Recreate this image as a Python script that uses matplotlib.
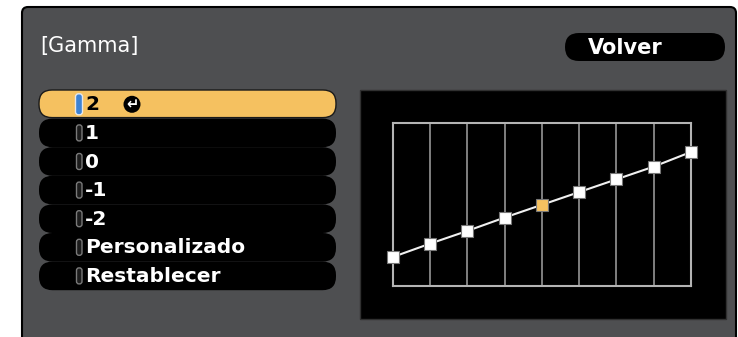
import matplotlib
matplotlib.use("Agg")
import matplotlib.pyplot as plt
from matplotlib.patches import FancyBboxPatch, Rectangle, Circle

# ---- data ----
title = "[Gamma]"
back_label = "Volver"
menu_items = ["2", "1", "0", "-1", "-2", "Personalizado", "Restablecer"]
selected_item = 0
curve_x = [0, 1, 2, 3, 4, 5, 6, 7, 8]
curve_y = [45, 66, 86, 107, 127, 147, 167, 187, 210]
highlight_point = 4
y_max = 255

W, H = 738, 337
fig = plt.figure(figsize=(W / 100, H / 100), dpi=100)
fig.patch.set_facecolor("white")

bg = fig.add_axes([0, 0, 1, 1])
bg.set_xlim(0, W)
bg.set_ylim(H, 0)
bg.axis("off")

PANEL = "#4e4f51"
YELLOW = "#f5c160"

# outer panel
bg.add_patch(FancyBboxPatch((22, 7), 714, 340, boxstyle="round,pad=0,rounding_size=6",
                            facecolor=PANEL, edgecolor="black", linewidth=1.5))

# title
bg.text(40, 46, title, color="white", fontsize=15, va="center", ha="left",
        family="DejaVu Sans")

# Volver pill
bg.add_patch(FancyBboxPatch((565, 33), 160, 28, boxstyle="round,pad=0,rounding_size=14",
                            facecolor="black", edgecolor="none"))
bg.text(588, 47.5, back_label, color="white", fontsize=15, fontweight="bold",
        va="center", ha="left", family="DejaVu Sans")

# menu rows
top0, pitch, row_h = 90, 28.6, 28.6
for i, label in enumerate(menu_items):
    if i == selected_item:
        continue
    y0 = top0 + i * pitch
    bg.add_patch(FancyBboxPatch((39, y0), 297, row_h, boxstyle="round,pad=0,rounding_size=13.5",
                                facecolor="black", edgecolor="none"))
for i, label in enumerate(menu_items):
    y0 = top0 + i * pitch
    yc = y0 + row_h / 2
    sel = i == selected_item
    if sel:
        bg.add_patch(FancyBboxPatch((39, y0), 297, row_h - 1,
                                    boxstyle="round,pad=0,rounding_size=13",
                                    facecolor=YELLOW, edgecolor="#1a1a1a", linewidth=1))
        bg.add_patch(FancyBboxPatch((75.5, yc - 10.5), 7, 21, boxstyle="round,pad=0,rounding_size=3",
                                    facecolor="#3d82d4", edgecolor="#e8e8e8", linewidth=1))
        # enter icon
        bg.add_patch(Circle((132, yc), 8.5, facecolor="black", edgecolor="none"))
        bg.text(132, yc + 0.5, "\u21b5", color="white", fontsize=10.5, fontweight="bold",
                ha="center", va="center", family="DejaVu Sans")
    else:
        bg.add_patch(FancyBboxPatch((76.5, yc - 8), 5.5, 16, boxstyle="round,pad=0,rounding_size=2.5",
                                    facecolor="#1c1c1c", edgecolor="#7a7a7a", linewidth=1))
    bg.text(85, yc + 0.5, label, color="black" if sel else "white", fontsize=14.5,
            fontweight="bold", va="center", ha="left", family="DejaVu Sans")

# graph panel
bg.add_patch(Rectangle((360, 90), 366, 229, facecolor="black", edgecolor="#303030", linewidth=1))

# chart axes placed at the grid box
gx0, gx1, gy0, gy1 = 392.7, 691.0, 123.3, 285.7
ax = fig.add_axes([gx0 / W, (H - gy1) / H, (gx1 - gx0) / W, (gy1 - gy0) / H])
ax.set_facecolor("black")
ax.set_xlim(curve_x[0], curve_x[-1])
ax.set_ylim(0, y_max)
ax.set_xticks([])
ax.set_yticks([])
for s in ax.spines.values():
    s.set_color("#b4b4b4")
    s.set_linewidth(1.5)
for xv in curve_x[1:-1]:
    ax.axvline(xv, color="#8a8a8a", linewidth=1.3, zorder=1)
ax.plot(curve_x, curve_y, color="#f0f0f0", linewidth=1.5, zorder=2, clip_on=False)
for i, (xv, yv) in enumerate(zip(curve_x, curve_y)):
    ax.plot(xv, yv, marker="s", markersize=8.5,
            markerfacecolor=YELLOW if i == highlight_point else "white",
            markeredgecolor="#777777", markeredgewidth=0.8, zorder=3, clip_on=False)

fig.savefig("out.png", dpi=100, facecolor="white")
